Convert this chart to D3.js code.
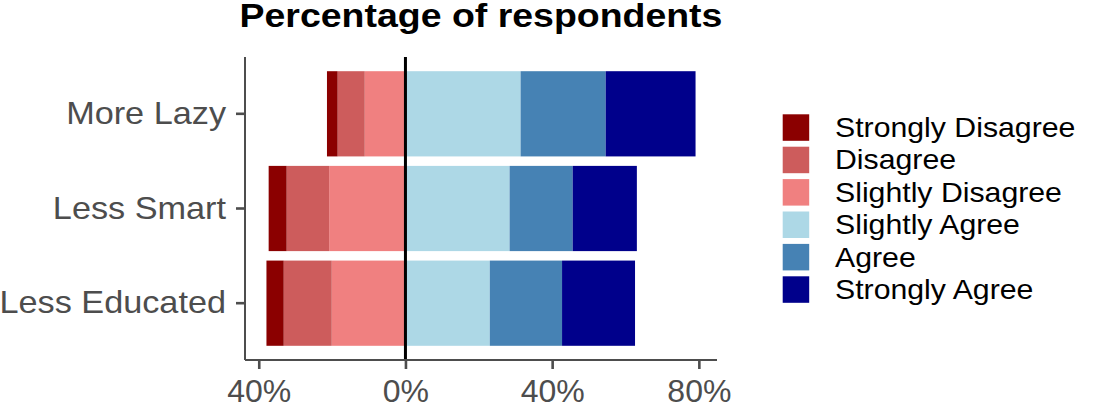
<!DOCTYPE html>
<html>
<head>
<meta charset="utf-8">
<script src="https://cdn.jsdelivr.net/npm/d3@7"></script>
<style>
  html, body { margin: 0; padding: 0; background: #fff; }
  svg { display: block; font-family: "Liberation Sans", Arial, Helvetica, sans-serif; }
</style>
</head>
<body>
<svg id="chart" width="1096" height="411"></svg>
<script>
// ---- data ----
const categories = ["More Lazy", "Less Smart", "Less Educated"];
const levels = ["Strongly Disagree", "Disagree", "Slightly Disagree", "Slightly Agree", "Agree", "Strongly Agree"];
const stronglyDisagree = [2.9, 4.9, 4.7];
const disagree = [7.4, 11.6, 13.1];
const slightlyDisagree = [11.1, 20.8, 20.1];
const slightlyAgree = [31.4, 28.4, 23.0];
const agree = [23.2, 17.2, 19.7];
const stronglyAgree = [24.5, 17.5, 19.9];
const xTicks = [-40, 0, 40, 80];
const xTickLabels = ["40%", "0%", "40%", "80%"];
const colors = ["#8B0000", "#CD5C5C", "#F08080", "#ADD8E6", "#4682B4", "#00008B"];
const title = "Percentage of respondents";

const seriesValues = [stronglyDisagree, disagree, slightlyDisagree, slightlyAgree, agree, stronglyAgree];

// ---- layout ----
const svg = d3.select("#chart");
const panel = { left: 245, right: 717, top: 57, bottom: 360 };

function widen(sel, factor) {
  sel.each(function () {
    const w = this.getComputedTextLength();
    d3.select(this).attr("textLength", w * factor).attr("lengthAdjust", "spacingAndGlyphs");
  });
}

// build segments: negatives stack outward from zero (slightly -> strongly), positives outward
const segs = [];
categories.forEach((cat, i) => {
  let neg = 0;
  [2, 1, 0].forEach(k => {
    const v = seriesValues[k][i];
    segs.push({ cat, level: k, x0: -(neg + v), x1: -neg });
    neg += v;
  });
  let pos = 0;
  [3, 4, 5].forEach(k => {
    const v = seriesValues[k][i];
    segs.push({ cat, level: k, x0: pos, x1: pos + v });
    pos += v;
  });
});

const minX = d3.min(segs, d => d.x0);
const maxX = d3.max(segs, d => d.x1);
const pad = (maxX - minX) * 0.05;

const x = d3.scaleLinear().domain([minX - pad, maxX + pad]).range([panel.left, panel.right]);
const y = d3.scaleBand().domain(categories).range([panel.top, panel.bottom])
  .paddingInner(0.1).paddingOuter(0.15);

// bars
svg.append("g").selectAll("rect").data(segs).join("rect")
  .attr("x", d => x(d.x0))
  .attr("width", d => x(d.x1) - x(d.x0))
  .attr("y", d => y(d.cat))
  .attr("height", y.bandwidth())
  .attr("fill", d => colors[d.level]);

// zero line
svg.append("line")
  .attr("x1", x(0)).attr("x2", x(0))
  .attr("y1", panel.top).attr("y2", panel.bottom)
  .attr("stroke", "#000").attr("stroke-width", 3);

const axisColor = "#4D4D4D";

// x axis
const xAxis = svg.append("g").attr("transform", `translate(0,${panel.bottom})`)
  .call(d3.axisBottom(x).tickValues(xTicks).tickSize(9).tickPadding(10)
    .tickFormat((d, i) => xTickLabels[i]));
xAxis.select(".domain").attr("stroke", axisColor).attr("stroke-width", 2)
  .attr("d", `M${panel.left},0H${panel.right}`);
xAxis.selectAll(".tick line").attr("stroke", axisColor).attr("stroke-width", 2.6);
xAxis.selectAll(".tick text").attr("fill", axisColor)
  .style("font-size", "32px").style("font-family", "Liberation Sans, Arial, sans-serif");

// y axis
const yAxis = svg.append("g").attr("transform", `translate(${panel.left},0)`)
  .call(d3.axisLeft(y).tickSize(9).tickPadding(10));
yAxis.select(".domain").attr("stroke", axisColor).attr("stroke-width", 2)
  .attr("d", `M0,${panel.top}V${panel.bottom}`);
yAxis.selectAll(".tick line").attr("stroke", axisColor).attr("stroke-width", 2.6);
yAxis.selectAll(".tick text").attr("fill", axisColor)
  .style("font-size", "32px").style("font-family", "Liberation Sans, Arial, sans-serif");
widen(yAxis.selectAll(".tick text"), 1.07);

// title
const titleText = svg.append("text")
  .attr("x", (panel.left + panel.right) / 2)
  .attr("y", 27)
  .attr("text-anchor", "middle")
  .attr("font-weight", "bold")
  .style("font-size", "33px")
  .attr("fill", "#000")
  .text(title);
widen(titleText, 1.135);

// legend
const leg = svg.append("g");
const keyStep = 32.4, keySize = 26.5, legX = 782.7, legY = 114.3;
levels.forEach((lv, i) => {
  leg.append("rect")
    .attr("x", legX).attr("y", legY + i * keyStep)
    .attr("width", keySize).attr("height", keySize)
    .attr("fill", colors[i]);
  const t = leg.append("text")
    .attr("x", 835).attr("y", legY + i * keyStep + keySize / 2)
    .attr("dominant-baseline", "central")
    .style("font-size", "28px")
    .attr("fill", "#000")
    .text(lv);
  widen(t, 1.08);
});
</script>
</body>
</html>
